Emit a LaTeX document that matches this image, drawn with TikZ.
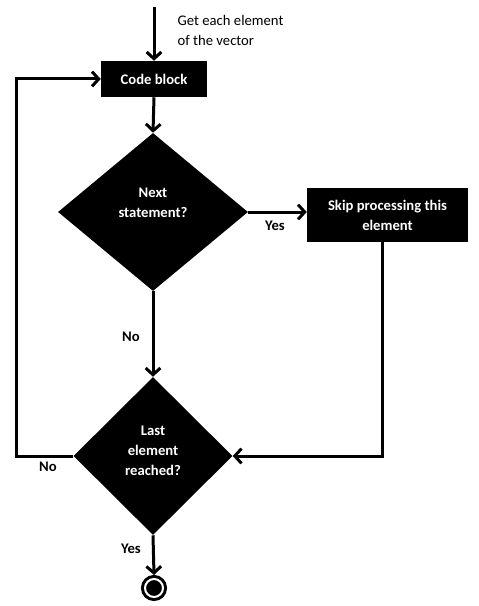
\documentclass[tikz,border=0pt]{standalone}
\usepackage{fontspec}
\setmainfont{Carlito}
\usetikzlibrary{shapes.geometric,arrows.meta}

\tikzset{
  box/.style={rectangle, fill=black, text=white, font=\fontsize{11pt}{15pt}\selectfont\bfseries, align=center, inner sep=0pt},
  decision/.style={diamond, aspect=1, fill=black, inner sep=0pt},
  intext/.style={text=white, font=\fontsize{11pt}{15pt}\selectfont\bfseries, align=center},
  flow/.style={line width=2.25pt, -{Straight Barb[length=5pt,width=11pt]}},
  lbl/.style={font=\fontsize{11pt}{15pt}\selectfont\bfseries},
}

\begin{document}
\begin{tikzpicture}[x=0.75pt,y=-0.75pt]
\useasboundingbox (0,0) rectangle (478,606);

% nodes
\coordinate (start) at (154,7);
\node[box, minimum width=79.5pt, minimum height=27pt] (code) at (154,79) {Code block};
\node[decision, minimum width=142.5pt, minimum height=118.5pt] (next) at (153,212) {};
\node[box, minimum width=120.75pt, minimum height=40.5pt] (skip) at (387.5,215) {Skip processing this\\element};
\node[decision, minimum width=119.25pt, minimum height=118.5pt] (last) at (153,456) {};
\node[circle, fill=black, draw, line width=2.25pt, double=white, double distance=1.5pt,
      minimum size=13.5pt, inner sep=0pt, outer sep=3pt] (stop) at (154,588) {};

% text
\node[intext] (nexttext) at (153,203) {Next\\statement?};
\node[intext] (lasttext) at (153,451) {Last\\element\\reached?};
\node[anchor=west, align=left, font=\fontsize{11pt}{15pt}\selectfont] at (173,30) {Get each element\\of the vector};
\node[lbl] at (275,226) {Yes};
\node[lbl] at (131,337) {No};
\node[lbl] at (48,467) {No};
\node[lbl] at (131,549) {Yes};

% connectors
\draw[flow] (start) -- (code.north);
\draw[flow] (code.south) -- (next.north);
\draw[flow] (next.east) -- (next.east -| skip.west);
\draw[flow] ([xshift=-4pt]skip.south) |- (last.east);
\draw[flow] (next.south) -- (last.north);
\draw[flow] (last.west) -- ++(-57,0) |- (code.west);
\draw[flow] (last.south) -- (stop.north);

\end{tikzpicture}
\end{document}
